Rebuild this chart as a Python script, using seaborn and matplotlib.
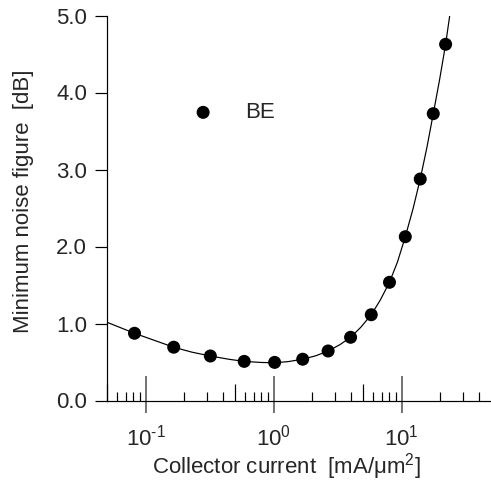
import numpy as np
import pandas as pd
import matplotlib
matplotlib.use("Agg")
import matplotlib.pyplot as plt
import matplotlib.ticker as mticker
import seaborn as sns

# measured points (BE)
current = [0.082, 0.166, 0.321, 0.590, 1.02, 1.69, 2.67, 4.00, 5.80, 8.05, 10.7, 14.0, 17.7, 22.1]
nfmin = [0.873, 0.692, 0.578, 0.508, 0.495, 0.536, 0.643, 0.821, 1.114, 1.535, 2.127, 2.876, 3.725, 4.626]

# fitted curve
curve_x = [0.05, 0.082, 0.12, 0.166, 0.23, 0.321, 0.45, 0.590, 0.80, 1.02, 1.30, 1.69, 2.15, 2.67,
           3.3, 4.00, 4.8, 5.80, 6.8, 8.05, 9.3, 10.7, 12.3, 14.0, 15.8, 17.7, 19.8, 22.1, 23.8]
curve_y = [1.016, 0.873, 0.775, 0.692, 0.628, 0.578, 0.535, 0.508, 0.494, 0.490, 0.505, 0.536, 0.582, 0.643,
           0.725, 0.821, 0.950, 1.114, 1.300, 1.535, 1.800, 2.127, 2.490, 2.876, 3.290, 3.725, 4.160, 4.626, 5.0]

y_ticks = [0.0, 1.0, 2.0, 3.0, 4.0, 5.0]
x_ticks = [0.1, 1, 10]
x_tick_labels = ["10$^{\u2010 1}$", "10$^{0}$", "10$^{1}$"]
series_label = "BE"
xlabel = "Collector current  [mA/μm$^2$]"
ylabel = "Minimum noise figure  [dB]"

sns.set_theme(style="white")
plt.rcParams["font.family"] = ["Liberation Sans", "DejaVu Sans"]
plt.rcParams["mathtext.fontset"] = "custom"
plt.rcParams["mathtext.rm"] = "Liberation Sans"
plt.rcParams["mathtext.it"] = "Liberation Sans:italic"
plt.rcParams["mathtext.bf"] = "Liberation Sans:bold"
plt.rcParams["mathtext.default"] = "regular"
plt.rcParams["axes.unicode_minus"] = False

DPI = 100
W, H = 491, 488
px = 72.0 / DPI  # points per pixel
FS = 16

fig = plt.figure(figsize=(W / DPI, H / DPI), dpi=DPI)
ax = fig.add_axes([107 / W, (H - 400.5) / H, (491 - 107) / W, (400.5 - 15.5) / H])

df_pts = pd.DataFrame({"current": current, "nf": nfmin})
df_curve = pd.DataFrame({"current": curve_x, "nf": curve_y})

sns.lineplot(data=df_curve, x="current", y="nf", ax=ax, color="black", linewidth=1.0 * px * 1.2,
             sort=False, estimator=None)
sns.scatterplot(data=df_pts, x="current", y="nf", ax=ax, color="black", s=(13 * px) ** 2,
                edgecolor="none", label=series_label, zorder=3)

ax.set_xscale("log")
ax.set_xlim(0.05, 50)
ax.set_ylim(0, 5)

for s in ["top", "right"]:
    ax.spines[s].set_visible(False)
for s in ["left", "bottom"]:
    ax.spines[s].set_color("black")
    ax.spines[s].set_linewidth(1.0 * px * 1.2)

# y axis
ax.set_yticks(y_ticks)
ax.yaxis.set_major_formatter(mticker.FormatStrFormatter("%.1f"))
ax.tick_params(axis="y", which="major", direction="out", length=12 * px, width=1.2 * px,
               color="black", labelsize=FS, pad=8 * px, left=True)

# x axis main: major in, minor in (no labels)
ax.xaxis.set_major_locator(mticker.FixedLocator(x_ticks))
ax.xaxis.set_minor_locator(mticker.FixedLocator(
    [m * 10.0 ** e for e in (-2, -1, 0, 1) for m in (2, 3, 4, 6, 7, 8, 9)]))
ax.xaxis.set_minor_formatter(mticker.NullFormatter())
ax.tick_params(axis="x", which="major", direction="in", length=25 * px, width=1.6 * px,
               color="#555555", labelbottom=False, bottom=True)
ax.tick_params(axis="x", which="minor", direction="in", length=9 * px, width=1.2 * px,
               color="black", bottom=True)

# secondary bottom axis: outward part of decade ticks with labels, and longer 5-ticks
sec = ax.secondary_xaxis("bottom")
sec.spines["bottom"].set_visible(False)
sec.xaxis.set_major_locator(mticker.FixedLocator(x_ticks))
sec.xaxis.set_major_formatter(mticker.FixedFormatter(x_tick_labels))
sec.xaxis.set_minor_locator(mticker.FixedLocator([0.05, 0.5, 5]))
sec.xaxis.set_minor_formatter(mticker.NullFormatter())
sec.tick_params(axis="x", which="major", direction="out", length=12 * px, width=1.6 * px,
                color="#555555", labelsize=FS, pad=12 * px)
sec.tick_params(axis="x", which="minor", direction="in", length=17 * px, width=1.2 * px,
                color="black")

ax.set_xlabel(xlabel, fontsize=FS)
ax.xaxis.set_label_coords((286 - 107) / 384, (400.5 - 467) / 385)
ax.xaxis.label.set_va("center")

ax.set_ylabel(ylabel, fontsize=FS)
ax.yaxis.set_label_coords((24 - 107) / 384, (400.5 - 201.5) / 385)
ax.yaxis.label.set_va("center")

leg = ax.legend(loc="center left", bbox_to_anchor=((192 - 107) / 384, (400.5 - 112.7) / 385),
                frameon=False, fontsize=FS, handlelength=1.0, handletextpad=1.4,
                borderpad=0, borderaxespad=0, markerscale=1.0)

fig.savefig("out.png", dpi=DPI)
